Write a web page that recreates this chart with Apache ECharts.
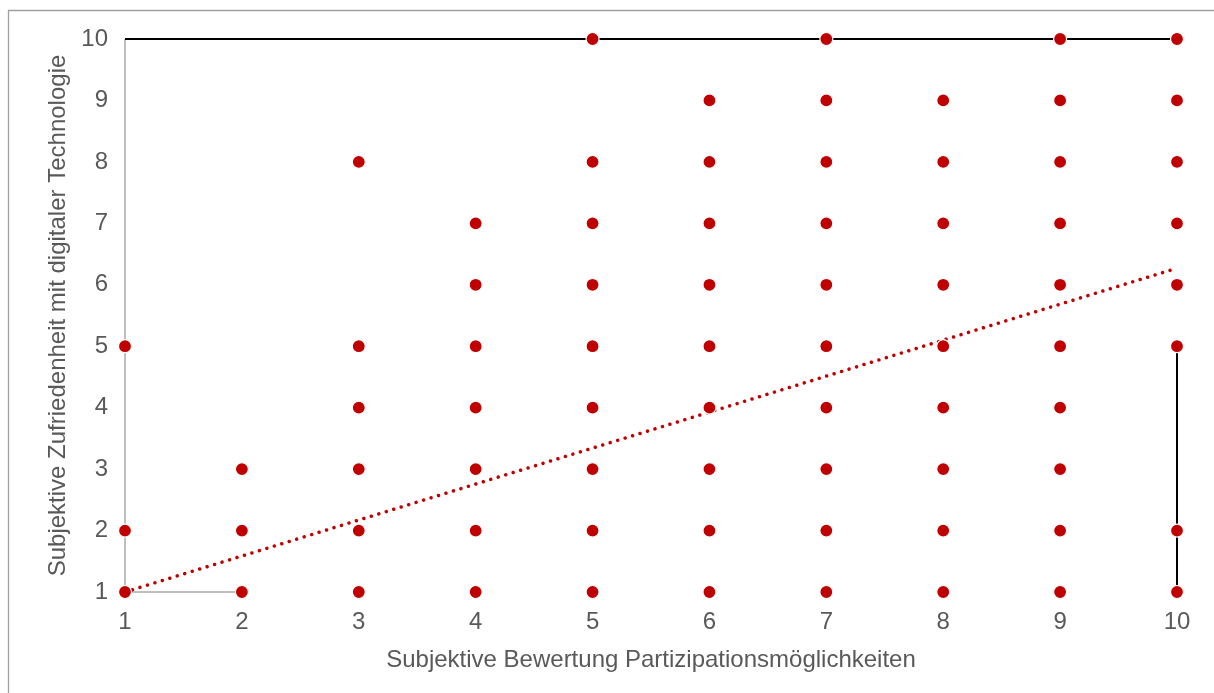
<!DOCTYPE html>
<html><head><meta charset="utf-8">
<script src="https://cdn.jsdelivr.net/npm/echarts@6/dist/echarts.min.js"></script>
<style>html,body{margin:0;padding:0;background:#fff}#c{width:1214px;height:693px}</style>
</head><body><div id="c"></div>
<script>
const xTitle = "Subjektive Bewertung Partizipationsmöglichkeiten";
const yTitle = "Subjektive Zufriedenheit mit digitaler Technologie";
const xValues = [1, 2, 3, 4, 5, 6, 7, 8, 9, 10];
const yByX = [
  [1, 2, 5],
  [1, 2, 3],
  [1, 2, 3, 4, 5, 8],
  [1, 2, 3, 4, 5, 6, 7],
  [1, 2, 3, 4, 5, 6, 7, 8, 10],
  [1, 2, 3, 4, 5, 6, 7, 8, 9],
  [1, 2, 3, 4, 5, 6, 7, 8, 9, 10],
  [1, 2, 3, 4, 5, 6, 7, 8, 9],
  [1, 2, 3, 4, 5, 6, 7, 8, 9, 10],
  [1, 2, 5, 6, 7, 8, 9, 10]
];
const trendX = [1, 10];
const trendY = [1.0, 6.27];
const grayLine = [[2, 1], [1, 1], [1, 10]];
const blackTop = [[1, 10], [10, 10]];
const blackRight = [[10, 5], [10, 1]];

const points = [];
xValues.forEach((x, i) => yByX[i].forEach(y => points.push([x, y])));
const trend = trendX.map((x, i) => [x, trendY[i]]);

const font = 'Liberation Sans, Arial, sans-serif';
const chart = echarts.init(document.getElementById('c'), null, {renderer: 'canvas'});
chart.setOption({
  animation: false,
  graphic: [{type: 'rect', shape: {x: 8.5, y: 10.5, width: 1300, height: 800},
    style: {fill: 'none', stroke: '#a0a0a0', lineWidth: 1.3}, silent: true}],
  grid: {left: 125, right: 37, top: 39, bottom: 101},
  xAxis: {
    type: 'value', min: 1, max: 10, interval: 1,
    name: xTitle, nameLocation: 'middle', nameGap: 56,
    nameTextStyle: {color: '#595959', fontSize: 24, fontFamily: font},
    axisLine: {show: false}, axisTick: {show: false}, splitLine: {show: false},
    axisLabel: {color: '#595959', fontSize: 24, fontFamily: font, margin: 18}
  },
  yAxis: {
    type: 'value', min: 1, max: 10, interval: 1,
    name: yTitle, nameLocation: 'middle', nameGap: 53,
    nameTextStyle: {color: '#595959', fontSize: 24, fontFamily: font},
    axisLine: {show: false}, axisTick: {show: false}, splitLine: {show: false},
    axisLabel: {color: '#595959', fontSize: 24, fontFamily: font, margin: 17}
  },
  series: [
    {type: 'line', data: grayLine, symbol: 'none', lineStyle: {color: '#bfbfbf', width: 2}, z: 1},
    {type: 'line', data: blackTop, symbol: 'none', lineStyle: {color: '#000', width: 2}, z: 1},
    {type: 'line', data: blackRight, symbol: 'none', lineStyle: {color: '#000', width: 2}, z: 1},
    {type: 'line', data: trend, symbol: 'none', lineStyle: {color: '#c00000', width: 3.5, type: [0.01, 7.8], cap: 'round'}, z: 3},
    {type: 'scatter', data: points, symbol: 'circle', symbolSize: 13,
      itemStyle: {color: '#c00000', borderColor: '#fff', borderWidth: 1.2, opacity: 1}, z: 4}
  ]
});
</script></body></html>
